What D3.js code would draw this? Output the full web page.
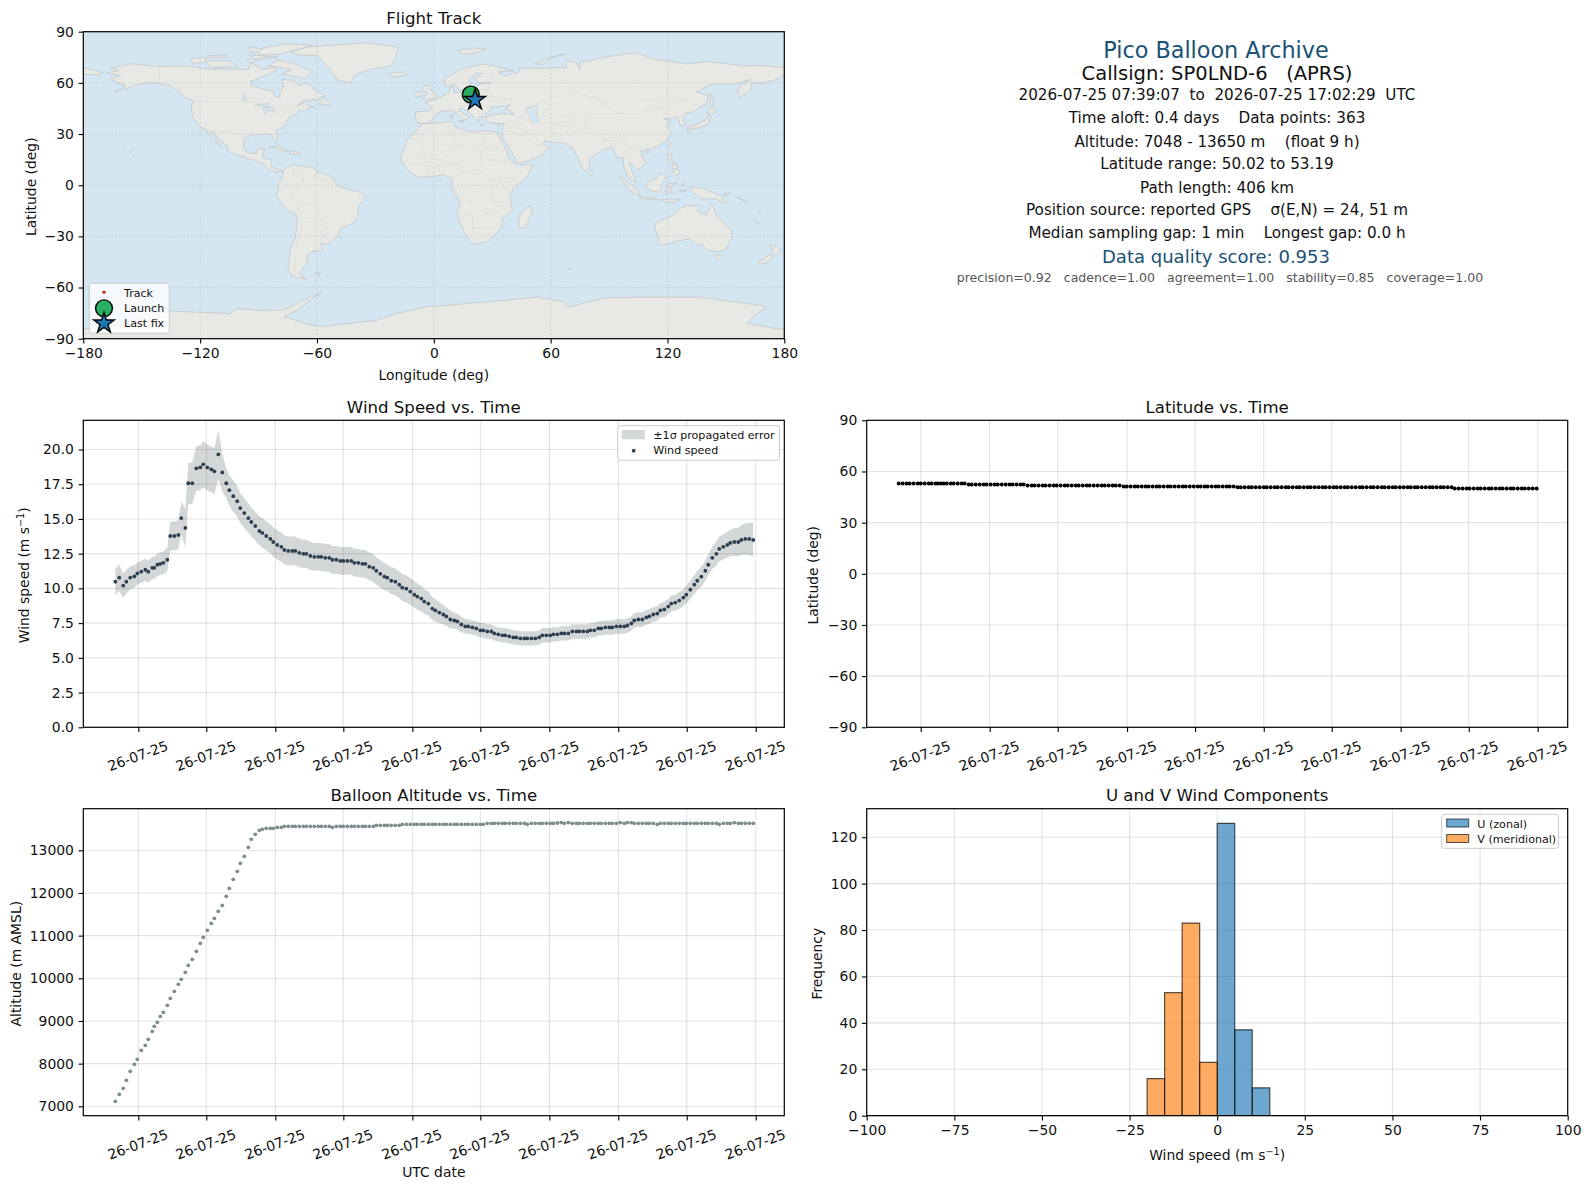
<!DOCTYPE html>
<html>
<head>
<meta charset="utf-8">
<script src="https://cdn.jsdelivr.net/npm/d3@7"></script>
<style>
  body { margin: 0; background: #fff; }
  text { font-family: "DejaVu Sans", sans-serif; fill: #111; }
</style>
</head>
<body>
<svg id="chart" width="1589" height="1189"></svg>
<script>
// minutes since launch for every plotted sample
const sampleMin = [0,3.5,7,9.7,13.2,16.8,19.4,22.9,26.5,29.1,32.6,34.4,37.1,39.7,42.4,45.9,48.5,52.1,55.6,58.2,61.8,64.4,67.9,71.5,75,77.6,81.2,84.7,87.4,90.9,94.4,97.9,100.6,104.1,107.6,110.3,113.8,117.4,120,123.5,127.1,129.7,133.2,136.8,139.4,142.9,146.5,149.1,152.6,156.2,158.8,162.4,165.9,168.5,172.1,175.6,179.1,181.8,185.3,188.8,191.5,195,198.5,201.2,204.7,208.2,210.9,214.4,217.9,220.6,224.1,227.6,230.3,233.8,237.4,240,243.5,247.1,250.6,253.2,256.8,260.3,263.8,266.5,270,272.6,276.2,279.7,282.4,285.9,289.4,292.1,295.6,299.1,301.8,305.3,308.8,311.5,315,318.5,322.1,324.7,328.2,331.8,334.4,337.9,341.5,344.1,347.6,351.2,353.8,357.4,360.9,363.5,367.1,370.6,374.1,376.8,380.3,383.8,386.5,390,393.5,396.2,399.7,403.2,406.8,409.4,412.9,416.5,419.1,422.6,426.2,428.8,432.4,435.9,438.5,442.1,445.6,449.1,451.8,455.3,457.9,461.5,465,468.5,471.2,474.7,478.2,480.9,484.4,487.9,490.6,494.1,497.6,501.2,503.8,507.4,510.9,513.5,517.1,520.6,523.2,526.8,530.3,532.9,536.5,540,542.6,546.2,549.7,552.4,555.9,559.4,562.9];

const windSpeed = [10.48,10.77,10.2,10.48,10.77,10.86,11.08,11.2,11.34,11.2,11.48,11.48,11.7,11.77,11.84,12.06,13.77,13.77,13.85,15.06,14.35,17.57,17.57,18.64,18.71,18.93,18.71,18.57,18.43,19.64,18.35,17.57,17.07,16.64,16.28,15.78,15.42,15.06,14.78,14.49,14.13,13.99,13.77,13.56,13.34,13.13,12.99,12.77,12.7,12.7,12.7,12.56,12.49,12.49,12.34,12.27,12.27,12.27,12.2,12.2,12.06,12.06,11.98,11.98,11.98,11.98,11.84,11.84,11.77,11.77,11.56,11.48,11.27,11.05,10.84,10.77,10.55,10.48,10.27,10.05,9.98,9.77,9.55,9.41,9.27,9.05,8.91,8.55,8.41,8.26,8.12,7.98,7.76,7.69,7.62,7.4,7.26,7.26,7.19,7.12,6.98,6.98,6.9,6.9,6.76,6.69,6.62,6.62,6.55,6.47,6.47,6.4,6.4,6.4,6.4,6.4,6.47,6.62,6.62,6.62,6.69,6.69,6.76,6.76,6.76,6.9,6.9,6.9,6.9,6.9,6.98,6.98,7.12,7.12,7.19,7.19,7.19,7.26,7.26,7.26,7.33,7.48,7.69,7.76,7.76,7.91,7.98,8.12,8.19,8.41,8.48,8.69,8.91,8.98,9.12,9.34,9.55,9.91,10.27,10.55,10.84,11.27,11.7,12.2,12.49,12.84,12.99,13.13,13.27,13.34,13.34,13.49,13.56,13.56,13.49];

const windSigma = [
  0.95,0.95,0.88,0.86,0.83,0.81,0.79,0.79,0.79,0.79,0.79,0.81,0.81,0.81,0.83,0.86,
  1.03,1.05,1.05,1.19,1.38,1.5,
  1.5,1.6,1.62,1.67,1.65,1.65,1.65,1.74,1.36,1.07,1.1,1.12,1.1,1.07,1.07,1.05,
  1.05,1.05,1.05,1.05,1.05,1.05,1.05,1.05,1.05,1.03,1.03,
  1.03,1.03,1.02,1.02,1.02,1.01,1,1,1,1,1,1,1,1,1,1,1,1,1,1,1,1,1,0.99,
  0.98,0.98,0.97,0.97,0.97,0.97,0.97,0.97,0.97,0.96,0.95,0.92,0.89,0.86,
  0.83,0.8,0.76,0.72,0.67,0.64,0.6,0.58,0.55,0.53,
  0.52,0.52,0.52,0.52,0.52,0.52,0.52,0.52,0.52,0.52,0.52,0.52,0.52,0.52,0.52,0.52,0.52,0.52,0.52,0.52,0.52,0.52,0.52,0.52,0.52,0.52,
  0.52,0.52,0.52,0.52,0.52,0.52,0.52,0.52,0.52,0.52,0.52,0.52,0.52,0.52,0.52,0.52,0.52,0.52,0.52,0.52,0.52,0.52,0.52,0.52,0.52,0.52,0.52,
  0.55,0.55,0.57,0.57,0.6,0.62,0.64,0.65,0.67,0.7,0.72,0.74,0.76,0.81,0.86,0.89,0.91,0.93,0.95,1,1.03,1.08,1.12,1.17,1.22,
];

const latitude = [
  52.98,52.98,52.98,52.98,52.98,52.98,52.98,52.98,52.98,52.98,52.98,52.98,52.98,52.98,52.98,52.98,52.98,52.98,52.98,52.98,
  52.39,52.39,52.39,52.39,52.39,52.39,52.39,52.39,52.39,52.39,52.39,52.39,52.39,52.39,52.39,52.39,
  51.81,51.81,51.81,51.81,51.81,51.81,51.81,51.81,51.81,51.81,51.81,51.81,51.81,51.81,51.81,51.81,51.81,51.81,51.81,51.81,51.81,51.81,51.81,51.81,51.81,51.81,
  51.22,51.22,51.22,51.22,51.22,51.22,51.22,51.22,51.22,51.22,51.22,51.22,51.22,51.22,51.22,51.22,51.22,51.22,51.22,51.22,51.22,51.22,51.22,51.22,51.22,51.22,51.22,51.22,51.22,51.22,51.22,
  50.7,50.7,50.7,50.7,50.7,50.7,50.7,50.7,50.7,50.7,50.7,50.7,50.7,50.7,50.7,50.7,50.7,50.7,50.7,50.7,50.7,50.7,50.7,50.7,50.7,50.7,50.7,50.7,50.7,50.7,
  50.7,50.7,50.7,50.7,50.7,50.7,50.7,50.7,50.7,50.7,50.7,50.7,50.7,50.7,50.7,50.7,50.7,50.7,50.7,50.7,50.7,50.7,50.7,50.7,50.7,50.7,50.7,50.7,50.7,
  50.05,50.05,50.05,50.05,50.05,50.05,50.05,50.05,50.05,50.05,50.05,50.05,50.05,50.05,50.05,50.05,50.05,50.05,50.05,50.05,50.05,50.05,50.05,
];

const altitude = [
  7117,7281,7422,7609,7820,7984,8102,8312,8430,8570,8758,8875,8969,9109,9203,9367,9531,9695,9859,9977,10141,10305,10445,10633,10820,10961,11125,11289,11406,11570,11711,11922,12109,12320,12508,12695,12859,13070,13258,13375,13469,13492,
  13516,13516,13516,13539,13539,
  13563,13563,13563,13563,13563,13563,13563,13563,13563,13563,13563,13563,13563,13539,
  13563,13563,13563,13563,13563,13563,13563,13563,13563,13563,13563,
  13586,13586,13586,13586,13586,13586,13586,
  13609,13609,13609,13609,13609,13609,13609,13609,
  13609,13609,13609,13609,13609,13609,13609,13609,13609,13609,13609,13609,13609,13609,13609,
  13632,13632,13632,13632,13632,13632,13632,13632,13632,13632,13632,13609,
  13632,13632,13632,13632,13632,13632,13632,13640,13650,13632,13650,
  13632,13632,13632,13632,13632,13632,13632,13632,13632,13632,13632,13632,13632,13650,13632,13650,13650,
  13632,13632,13632,13632,13632,13632,13609,
  13632,13632,13632,13632,13632,13632,13632,13632,13632,13632,13632,13632,13632,13632,13632,13632,13609,
  13632,13632,13632,13650,13632,13632,13632,13632,13632,
];

// hours on the shared time axis, in the same minutes since launch
const windTicks = [20.3,80.3,141.2,201.2,262.1,322.1,383,443.8,504.2,565.1];
const latTicks = [19.4,80.3,140.3,201.5,261.5,322.1,382.1,442.9,503,563.8];

// histogram, 5 m/s bins from -100 to 100
const binEdges = d3.range(-100, 100, 5);
const uCounts = [0,0,0,0,0,0,0,0,0,0,0,0,0,0,0,0,0,0,0,0,126,37,12,0,0,0,0,0,0,0,0,0,0,0,0,0,0,0,0,0];
const vCounts = [0,0,0,0,0,0,0,0,0,0,0,0,0,0,0,0,16,53,83,23,0,0,0,0,0,0,0,0,0,0,0,0,0,0,0,0,0,0,0,0];

const launch = [19, 53.19];
const lastFix = [21.2, 50.02];

const infoLines = [
  ['2026-07-25 07:39:07  to  2026-07-25 17:02:29  UTC', 100],
  ['Time aloft: 0.4 days    Data points: 363', 123.3],
  ['Altitude: 7048 - 13650 m    (float 9 h)', 146.7],
  ['Latitude range: 50.02 to 53.19', 169.3],
  ['Path length: 406 km', 192.7],
  ['Position source: reported GPS    σ(E,N) = 24, 51 m', 215.3],
  ['Median sampling gap: 1 min    Longest gap: 0.0 h', 238.3],
];

// coastlines as [lon, lat] rings
const land = [
  [[-168,66],[-162,67],[-166,68.5],[-156,71.3],[-141,69.6],[-128,70],[-115,68],[-108,68],[-95,68],[-94,72],[-88,68],[-82,69],[-81,67],[-87,64],[-94,61],[-94,58.5],[-88,56.5],[-82,55],[-82,52],[-79,51.5],[-79,55],[-77,57],[-78,62],[-72,61.5],[-69,58.5],[-65,60],[-61,56],[-56,52.5],[-60,50],[-66,50],[-70,47],[-65,49],[-64.5,46],[-61,46],[-66,44],[-70,43.5],[-70,41.7],[-74,40.5],[-76,37],[-76,35],[-81,31.5],[-80,27],[-81,25],[-83,29],[-85,30],[-90,29.5],[-94,29.5],[-97.5,27],[-97.8,22],[-95,18.5],[-91,18.8],[-90.5,21],[-87,21.5],[-88,16],[-83.5,15],[-83.5,11],[-80,9],[-77.5,8.5],[-79.5,7.5],[-83,8.3],[-86,10.5],[-88,13],[-92,14.5],[-96,16],[-102,18],[-105.5,20],[-106,23],[-109.5,26],[-113,31],[-114.8,31.5],[-112,27],[-109.5,23],[-112,25],[-115,29],[-117,32.5],[-120.5,34.5],[-124,40],[-124.5,47],[-123,49],[-128,51.5],[-131,55],[-136,58.5],[-145,60.5],[-152,59],[-158,56.5],[-164,54.8],[-158,58.5],[-162,60],[-166,62],[-161,64.5],[-168,65.6]],
  [[-73,78],[-66,81],[-35,83.5],[-18,81],[-20,74],[-22,70],[-32,68],[-40,65],[-43,60],[-50,62],[-53,67],[-55,70],[-60,76],[-70,76.5]],
  [[-80,73.5],[-72,71.5],[-67,69],[-62,66.5],[-66,62.5],[-72,64],[-78,65],[-73,68],[-85,70]],
  [[-90,80],[-75,83],[-62,82],[-72,79],[-80,76.5],[-90,76.5]],
  [[-117,73],[-105,73],[-101,69.5],[-115,69]],
  [[-125,74],[-117,75],[-118,72],[-124,71.5]],
  [[-95,76.5],[-80,75],[-92,74]],
  [[-116,76],[-106,76.5],[-106,75],[-116,75]],
  [[-96,74],[-90,73.5],[-94,71.5]],
  [[-95,81],[-88,80],[-90,78],[-94,78]],
  [[-59,47.7],[-56,51.5],[-53,47],[-55,47]],
  [[-85,22],[-80,23],[-74,20],[-77.5,20],[-82,22.3]],
  [[-74,19.8],[-69,19.5],[-68.5,18.4],[-74,18.2]],
  [[-156,20.5],[-155,19.5],[-156,19]],
  [[-159.8,22.2],[-159.3,22.2],[-159.5,21.8]],
  [[-180,65],[-172,64.5],[-170,66],[-180,69]],
  [[-77.5,8.5],[-75,11],[-72,12],[-68,11],[-62,10.5],[-60,8],[-52,5],[-50,0],[-44,-2.5],[-37,-4.5],[-35,-7],[-39,-13],[-39,-18],[-41,-22],[-48,-25.5],[-49,-29],[-54,-34.5],[-58,-34],[-57,-38],[-62,-39],[-65,-41],[-65,-45],[-68,-50],[-68.5,-53],[-65.5,-55],[-72,-54],[-75,-50],[-74,-42],[-73.5,-37],[-71,-30],[-70,-18],[-76,-14],[-81,-6],[-80,-2.5],[-80,1],[-78,3],[-77.5,7]],
  [[-6,35.8],[10,37.3],[11,34],[15,32.5],[20,31],[25,32],[32,31.2],[34,28],[37,21],[39,15],[43,12],[51,12],[48,5],[41,-2],[39,-7],[40.5,-15],[35,-20],[35,-24],[32.5,-28],[28,-33],[20,-34.8],[18,-32],[15,-26],[12,-17],[13.5,-10],[9,-1],[9.5,4],[5,6],[-3,5],[-8,4.5],[-13,8.5],[-17,14.5],[-16,20],[-13,27.5],[-9.5,31]],
  [[49.5,-12],[50.5,-16],[47,-25],[44,-25],[43.5,-21],[44.5,-16]],
  [[-9,37],[-9.5,43],[-2,43.5],[-1,46],[-4.5,48.5],[2,51],[8,54],[8,57],[10.5,57.5],[10,54.5],[14,54],[19,54.5],[21,57],[24,59.5],[30,60],[23,60],[21,63],[25,65.5],[22,65.8],[17.5,62],[19,60],[16,56.5],[13,55.5],[11,59],[6,58],[5,62],[14,68],[25,71],[31,70],[41,67],[33,66.5],[36,64],[44,66.5],[44,68.5],[54,68.5],[68,69],[68,73],[73,72],[75,68],[75,72],[80,73],[87,75],[104,77.7],[113,74],[130,71],[140,72.5],[160,70],[170,70],[180,69],[180,65],[177,62.5],[170,60],[163,60],[163,56],[157,51],[156,57],[163,62],[155,59.5],[142,59],[135,54.5],[141,53],[140,48],[133,43],[130,42.5],[128,40],[129.5,36],[126.5,34.5],[126,37.5],[125,39.8],[121.5,39],[118,39],[122,37],[119.5,35],[122,31],[120,26],[114,22.5],[110,21],[106,20],[109,13],[105,9],[100,13.5],[103,5],[104,1.5],[100.5,4],[98,9],[97,16.5],[94,16],[92,22],[87,21],[80,15],[80,11],[77.5,8],[73,18],[72,21],[67,24.5],[60,25.3],[57,26],[56,24],[59.5,22.5],[55,17],[45,13],[43,13],[39,21],[35,28],[35,31],[36,36],[30,36.5],[27,37],[26.5,40],[29,41],[35,42],[41.5,41.5],[37,45],[39,47],[33,46],[30,46],[28,43],[26,40.5],[23,40],[23,37],[20,40],[19,42],[14,45.5],[12.5,44],[16,41.5],[18.5,40],[16,38],[12,42],[8,44],[3,43],[0,39.5],[-2,37],[-5.5,36]],
  [[-5.5,50],[1.5,51.2],[1.5,53],[-2,56],[-2,58],[-5,58.5],[-6,56],[-3,54],[-5,52]],
  [[-10,52],[-6,52.2],[-6,55],[-9,54.5]],
  [[-24,65.5],[-15,66.3],[-13.5,65],[-19,63.4],[-22.5,64]],
  [[12,79],[20,80.3],[27,80],[20,77],[15,77]],
  [[52,71],[57,74],[68,77],[60,75],[56,71]],
  [[12.5,38],[15.5,38],[15,36.7]],
  [[8.3,41],[9.7,41],[9.5,39],[8.5,39]],
  [[24,35.5],[26,35.2],[24,35]],
  [[32.5,35],[34.5,35.6],[33.5,34.6]],
  [[80,9.5],[82,7],[80.5,6],[79.7,8]],
  [[130,33.5],[135.5,33.5],[140.8,35.5],[142,39.5],[141,41.3],[139.5,38],[136,36],[131,34.5]],
  [[140,42],[142,45.5],[145.5,43.3],[143,42]],
  [[130,33.5],[132,33],[131,31],[130,31.3]],
  [[142,54],[143.5,50],[143,46],[142,48]],
  [[121,25],[122,24.5],[120.8,22],[120,23.5]],
  [[109,20],[111,20],[110,18.3]],
  [[120.5,18.5],[122.3,18.3],[122,15],[124,13],[120.5,14]],
  [[122,8],[125.5,9.7],[126.5,7],[125,5.8],[123.5,7.5]],
  [[122,11.5],[125,12.5],[125.5,10],[123,9.5]],
  [[95.5,5.5],[104,-2],[106,-6],[102,-4.5],[97,2]],
  [[105.5,-6.5],[114.5,-7.8],[114.5,-8.7],[106,-7.6]],
  [[109,1.5],[113,3.5],[117,7],[119,5],[117.5,1],[116,-4],[111,-3.3],[109,-0.5]],
  [[119.5,-5.5],[120,0.8],[125,1.5],[121,-1],[123,-5],[121,-3.5]],
  [[131,-1],[138,-1.8],[147,-6],[150.5,-10.5],[144,-8],[138,-8],[132.5,-4]],
  [[116,-8.5],[120,-8.3],[125,-8.2],[127,-8.4],[124,-10],[119,-9.7]],
  [[127.5,2],[128.5,1],[128,-0.8]],
  [[126,-3],[130,-3],[129,-3.7]],
  [[148,-6],[152,-4.2],[152,-5.5]],
  [[156,-7],[161,-10],[160,-10]],
  [[164,-20],[167,-22.4],[165.5,-21.8]],
  [[167,-15],[168,-16.5],[167.2,-16]],
  [[114,-22],[122,-18],[126,-14],[130,-12],[136.5,-12],[135.5,-15],[140,-17.5],[142.5,-11],[146,-19],[153,-26],[153,-31],[150,-37.5],[146,-39],[140,-38],[138,-35],[135.5,-34.8],[131,-31.5],[124,-33],[118,-35],[115,-34.3],[115.5,-31],[113.5,-25]],
  [[144.7,-41],[148.3,-41],[147,-43.5],[146,-43.5]],
  [[172.7,-34.5],[178.5,-37.7],[175.5,-41.5],[174,-39]],
  [[172.5,-40.7],[174.5,-41.8],[171,-45.8],[167,-46.2],[167,-45]],
  [[-61,-51.5],[-58,-51.5],[-59,-52.3]],
  [[69,-49],[70.5,-49.3],[69.5,-49.7]],
  [[-180,-90],[-180,-84.3],[-155,-82],[-150,-77],[-135.5,-73.8],[-104.7,-75.3],[-101,-72.4],[-89,-73.4],[-77,-73],[-68.7,-68.5],[-57.6,-63],[-65,-68.5],[-68.7,-72.4],[-77,-77.3],[-61.9,-82.2],[-57.6,-82.8],[-29.3,-79.3],[-19,-75.3],[-4.5,-71.4],[16,-69.5],[54,-65.6],[67,-68.5],[69,-71.4],[72.5,-70.5],[88,-66],[105,-65.6],[136,-65.6],[171,-71],[164,-77.3],[161,-80.8],[175,-84],[180,-84.3],[180,-90]],
];

// inland water drawn back over the land
const water = [
  [[47,45],[53,46.5],[53,41],[54,37],[50,37],[49,41]],
  [[-92,47],[-85,48],[-84.5,46],[-88,46.5]],
  [[-87.5,45.5],[-82,45.8],[-82,43],[-84,44],[-87,42]],
  [[-96,50],[-97,54],[-98,53],[-98,50]],
];

const borders = [
  [[-123,49],[-95,49],[-89,48],[-83,46],[-82,43],[-79,43],[-75,45],[-70,46],[-67,47],[-67,45]],
  [[-141,69.6],[-141,60],[-135,59],[-130,55]],
  [[-117,32.5],[-108,31.5],[-106,31.7],[-101,29.5],[-97.5,26]],
  [[-92,14.5],[-91,18],[-88,18]],
  [[-70,-18],[-69,-11],[-74,-7],[-70,-4],[-70,1],[-67,2],[-60,5]],
  [[-72,12],[-72,7],[-67,6],[-67,2]],
  [[-78,1],[-75,0],[-70,-4]],
  [[-80,-3.5],[-75,-1]],
  [[-69,-11],[-65,-10],[-60,-13],[-58,-20],[-54,-25],[-57,-30],[-53,-33.5]],
  [[-69,-18],[-67,-22],[-70,-33],[-72,-50],[-69,-52]],
  [[-67,-22],[-58,-20]],
  [[-58,-27],[-54,-25]],
  [[-58,-34],[-58,-27]],
  [[-60,8],[-60,5],[-57,2],[-52,2]],
  [[-13,27.5],[-8,27.5],[-8,29],[-2,32],[-2,35]],
  [[8.5,37],[8,31],[10,30],[12,23]],
  [[11,33],[10,30]],
  [[25,32],[25,20],[24,15.5],[23,9],[27,5],[30,3.5],[34,4],[36,-1],[40,-4]],
  [[25,22],[37,22]],
  [[-17,16],[-5,15.5],[-5,25],[-8,27.5]],
  [[12,23],[15,23],[24,20]],
  [[3,19],[12,23]],
  [[-5,15.5],[3,15],[14,13]],
  [[14,13],[15,8],[9,4]],
  [[-13,12.5],[0,11],[3,12],[14,13]],
  [[-3,5],[-3,11]],
  [[3,6],[3,12]],
  [[15,8],[23,9]],
  [[14,-5],[12.5,-6],[22,-11],[24,-13],[30,-15],[35,-17]],
  [[12,-17],[24,-18],[30,-15]],
  [[20,-18],[20,-28],[17,-29]],
  [[20,-25],[26,-25],[32,-26]],
  [[30,-1],[30,-9],[39,-10.5]],
  [[34,4],[42,4],[41,-2]],
  [[36,14],[43,12]],
  [[24,15.5],[36,14]],
  [[-1.8,43.4],[3,42.5]],
  [[3,51],[8,49],[7.5,44]],
  [[8,54.8],[7,51],[8,49]],
  [[14,54],[15,51],[18,49.5],[23,48.5],[24,51],[23.5,54]],
  [[24,51],[31,52],[40,50],[39,47]],
  [[23,48.5],[28,45.5],[29,45]],
  [[14,46.5],[17,48],[23,48.5]],
  [[22,42],[28,42]],
  [[21,56],[28,56],[28,59.5]],
  [[28,56],[31,52]],
  [[28,70],[30,62],[28,60]],
  [[18,69],[13,64],[12,59]],
  [[44,40],[48,38]],
  [[36,36],[42,37],[44,37],[44,40]],
  [[36,32],[39,32],[46,29],[48,30]],
  [[42,37],[39,32]],
  [[46,29],[52,24],[56,24]],
  [[44,37],[46,35],[48,30]],
  [[54,37],[60,36],[61,31],[63,26]],
  [[61,31],[66,29.5],[70,33],[71,37],[74,37]],
  [[60,36],[66,37],[71,37]],
  [[62,25],[66,29.5]],
  [[68,24],[71,28],[74,33],[78,35],[79,31],[88,27],[92,28],[97,28]],
  [[88,27],[88,23],[92,22]],
  [[92,22],[97,28]],
  [[97,28],[98,24],[101,21],[105,23],[108,21.5]],
  [[101,21],[100,18],[105,14],[107,11]],
  [[100,18],[98,16]],
  [[54,41],[59,45],[66,41],[71,42],[74,37]],
  [[51,47],[61,51],[70,55],[77,53],[87,49]],
  [[47,43],[48,46],[51,47]],
  [[87,49],[80,42],[74,40]],
  [[87,49],[98,52],[106,50],[117,50],[120,53],[127,50],[135,48],[131,43]],
  [[80,42],[96,42],[106,42],[112,45],[120,47],[117,50]],
  [[87,49],[91,45],[96,42]],
  [[124.5,40],[130,42.5]],
  [[126,38],[129,38]],
  [[78,35],[80,42]],
];

const svg = d3.select('#chart');
const tickFont = 13.9;
const leftCol = [83.3, 784.3], rightCol = [866.7, 1567.7];
const row1 = [31.7, 338.7], row2 = [420.3, 727.3], row3 = [808.7, 1115.7];
const defs = svg.append('defs');
let clipId = 0;

function panel(xRange, yRange, x, y, xTicks, yTicks, opts) {
  const g = svg.append('g');
  const id = 'clip' + clipId++;
  defs.append('clipPath').attr('id', id).append('rect')
    .attr('x', xRange[0]).attr('y', yRange[0])
    .attr('width', xRange[1] - xRange[0]).attr('height', yRange[1] - yRange[0]);

  const marks = g.append('g').attr('clip-path', `url(#${id})`);
  const grid = marks.append('g');
  xTicks.forEach((t) => grid.append('line').attr('x1', x(t)).attr('x2', x(t)).attr('y1', yRange[0]).attr('y2', yRange[1]));
  yTicks.forEach((t) => grid.append('line').attr('y1', y(t)).attr('y2', y(t)).attr('x1', xRange[0]).attr('x2', xRange[1]));
  grid.selectAll('line').attr('stroke', '#b0b0b0').attr('stroke-opacity', 0.35).attr('stroke-width', 1.1);

  const xAxis = g.append('g').attr('transform', `translate(0,${yRange[1]})`)
    .call(d3.axisBottom(x).tickValues(xTicks).tickFormat(opts.xFormat).tickSize(4.7).tickSizeOuter(0).tickPadding(4.7));
  const yAxis = g.append('g').attr('transform', `translate(${xRange[0]},0)`)
    .call(d3.axisLeft(y).tickValues(yTicks).tickFormat(opts.yFormat).tickSize(4.7).tickSizeOuter(0).tickPadding(4.7));
  [xAxis, yAxis].forEach((a) => {
    a.select('.domain').remove();
    a.selectAll('.tick line').attr('stroke', '#000').attr('stroke-width', 1.1);
    a.selectAll('text').attr('font-size', tickFont).attr('font-family', '"DejaVu Sans"').attr('fill', '#111');
  });
  if (opts.rotate) {
    xAxis.selectAll('.tick text')
      .attr('y', 0).attr('dy', 0)
      .attr('text-anchor', 'middle').attr('dominant-baseline', 'central')
      .attr('transform', 'translate(-1,28.5) rotate(-20)');
  }
  g.append('rect').attr('x', xRange[0]).attr('y', yRange[0])
    .attr('width', xRange[1] - xRange[0]).attr('height', yRange[1] - yRange[0])
    .attr('fill', 'none').attr('stroke', '#000').attr('stroke-width', 1.2);

  const cx = (xRange[0] + xRange[1]) / 2, cy = (yRange[0] + yRange[1]) / 2;
  g.append('text').attr('x', cx).attr('y', yRange[0] - 7.8).attr('text-anchor', 'middle')
    .attr('font-size', 16.6).text(opts.title);
  if (opts.yLabel) {
    g.append('text').attr('transform', `translate(${opts.yLabelX},${cy + 1.5}) rotate(-90)`)
      .attr('text-anchor', 'middle').attr('font-size', tickFont).text(opts.yLabel);
  }
  return { g, marks, cx };
}

function legendBox(g, x0, y0, x1, y1) {
  g.append('rect').attr('x', x0).attr('y', y0).attr('width', x1 - x0).attr('height', y1 - y0)
    .attr('rx', 2.5).attr('fill', '#fff').attr('fill-opacity', 0.8)
    .attr('stroke', '#ccc').attr('stroke-width', 1);
}
function legendText(g, x, y, s) {
  g.append('text').attr('x', x).attr('y', y).attr('font-size', 11.1).text(s);
}
const dots = (sel, data, x, y, r, color) => sel.selectAll(null).data(data).enter().append('circle')
  .attr('cx', (d) => x(d[0])).attr('cy', (d) => y(d[1])).attr('r', r).attr('fill', color);

// Flight track
{
  const x = d3.scaleLinear().domain([-180, 180]).range(leftCol);
  const y = d3.scaleLinear().domain([-90, 90]).range([row1[1], row1[0]]);
  const ticksX = d3.range(-180, 181, 60), ticksY = d3.range(-90, 91, 30);
  const p = panel(leftCol, row1, x, y, ticksX, ticksY, {
    title: 'Flight Track', yLabel: 'Latitude (deg)', yLabelX: 35.5,
    xFormat: d3.format('d'), yFormat: d3.format('d'),
  });
  const ring = d3.line().x((d) => x(d[0])).y((d) => y(d[1]));
  const base = p.marks.insert('g', ':first-child');
  base.append('rect').attr('x', leftCol[0]).attr('y', row1[0])
    .attr('width', leftCol[1] - leftCol[0]).attr('height', row1[1] - row1[0]).attr('fill', '#d4e6f1');
  base.selectAll('path.land').data(land).enter().append('path').attr('class', 'land')
    .attr('d', (d) => ring(d) + 'Z').attr('fill', '#e8e8e4').attr('stroke', '#bfc3c6').attr('stroke-width', 0.7).attr('stroke-linejoin', 'round');
  base.selectAll('path.water').data(water).enter().append('path').attr('class', 'water')
    .attr('d', (d) => ring(d) + 'Z').attr('fill', '#d4e6f1').attr('stroke', '#bfc3c6').attr('stroke-width', 0.5);
  base.selectAll('path.border').data(borders).enter().append('path').attr('class', 'border')
    .attr('d', ring).attr('fill', 'none').attr('stroke', '#dcdcd8').attr('stroke-width', 0.7);
  p.marks.selectAll('line').attr('stroke', '#999').attr('stroke-opacity', 0.35).attr('stroke-width', 0.7).attr('stroke-dasharray', '2.5,2');

  const track = latitude.map((la, i) => [launch[0] + (lastFix[0] - launch[0]) * i / (latitude.length - 1), la]);
  dots(p.marks.append('g'), track, x, y, 1.8, '#c0392b');
  p.marks.append('circle').attr('cx', x(launch[0])).attr('cy', y(launch[1])).attr('r', 8.4)
    .attr('fill', '#27ae60').attr('stroke', '#000').attr('stroke-width', 1.4);
  p.marks.append('path').attr('d', d3.symbol(d3.symbolStar, 130))
    .attr('transform', `translate(${x(lastFix[0])},${y(lastFix[1])})`)
    .attr('fill', '#1f77b4').attr('stroke', '#000').attr('stroke-width', 1.4);

  legendBox(p.g, 89.3, 283.3, 169.3, 333.3);
  p.g.append('circle').attr('cx', 104).attr('cy', 292.3).attr('r', 1.8).attr('fill', '#c0392b');
  p.g.append('circle').attr('cx', 104).attr('cy', 308.3).attr('r', 8.4).attr('fill', '#27ae60').attr('stroke', '#000').attr('stroke-width', 1.4);
  p.g.append('path').attr('d', d3.symbol(d3.symbolStar, 130)).attr('transform', 'translate(104,323.3)')
    .attr('fill', '#1f77b4').attr('stroke', '#000').attr('stroke-width', 1.4);
  legendText(p.g, 124, 296.5, 'Track');
  legendText(p.g, 124, 312, 'Launch');
  legendText(p.g, 124, 327, 'Last fix');

  p.g.append('text').attr('x', p.cx).attr('y', 380).attr('text-anchor', 'middle')
    .attr('font-size', tickFont).text('Longitude (deg)');
}

// Info block
{
  const cx = 1217;
  const add = (s, y, size, color, dx = 0) => svg.append('text').attr('x', cx + dx).attr('y', y).attr('text-anchor', 'middle')
    .attr('xml:space', 'preserve').style('white-space', 'pre').attr('font-size', size).style('fill', color).text(s);
  add('Pico Balloon Archive', 58.3, 22.3, '#1a5276', -1);
  add('Callsign: SP0LND-6   (APRS)', 80, 19.5, '#111');
  infoLines.forEach((d) => add(d[0], d[1], 15.2, '#111'));
  add('Data quality score: 0.953', 263.3, 18.05, '#1a5276', -1);
  add('precision=0.92   cadence=1.00   agreement=1.00   stability=0.85   coverage=1.00', 281.7, 12.55, '#555', 3);
}

const timeDomain = [-28.24, 590.3];
const blank = () => '26-07-25';

// Wind speed
{
  const x = d3.scaleLinear().domain(timeDomain).range(leftCol);
  const y = d3.scaleLinear().domain([0, 22.1]).range([row2[1], row2[0]]);
  const p = panel(leftCol, row2, x, y, windTicks, d3.range(0, 20.1, 2.5), {
    title: 'Wind Speed vs. Time', yLabel: '', rotate: true,
    xFormat: blank, yFormat: d3.format('.1f'),
  });
  const area = d3.area().x((d, i) => x(sampleMin[i]))
    .y0((d, i) => y(d - windSigma[i])).y1((d, i) => y(d + windSigma[i]));
  p.marks.append('path').attr('d', area(windSpeed)).attr('fill', '#37474f').attr('fill-opacity', 0.22);
  dots(p.marks.append('g'), windSpeed.map((v, i) => [sampleMin[i], v]), x, y, 1.9, '#2c3e50');

  legendBox(p.g, 617.7, 425.7, 779.5, 460.3);
  p.g.append('rect').attr('x', 621.7).attr('y', 430).attr('width', 23).attr('height', 9.3)
    .attr('fill', '#37474f').attr('fill-opacity', 0.22);
  p.g.append('circle').attr('cx', 633.7).attr('cy', 450.7).attr('r', 1.9).attr('fill', '#2c3e50');
  legendText(p.g, 653.3, 439, '±1σ propagated error');
  legendText(p.g, 653.3, 454, 'Wind speed');

  const lab = svg.append('text').attr('transform', `translate(29,${(row2[0] + row2[1]) / 2 + 1.5}) rotate(-90)`)
    .attr('text-anchor', 'middle').attr('font-size', tickFont);
  lab.append('tspan').text('Wind speed (m s');
  lab.append('tspan').attr('dy', -5).attr('font-size', 9.7).text('−1');
  lab.append('tspan').attr('dy', 5).text(')');
}

// Latitude
{
  const x = d3.scaleLinear().domain(timeDomain).range(rightCol);
  const y = d3.scaleLinear().domain([-90, 90]).range([row2[1], row2[0]]);
  const p = panel(rightCol, row2, x, y, latTicks, d3.range(-90, 91, 30), {
    title: 'Latitude vs. Time', yLabel: 'Latitude (deg)', yLabelX: 818, rotate: true,
    xFormat: blank, yFormat: d3.format('d'),
  });
  dots(p.marks.append('g'), latitude.map((v, i) => [sampleMin[i], v]), x, y, 2, '#000');
}

// Altitude
{
  const x = d3.scaleLinear().domain(timeDomain).range(leftCol);
  const y = d3.scaleLinear().domain([6780, 13975]).range([row3[1], row3[0]]);
  const p = panel(leftCol, row3, x, y, windTicks, d3.range(7000, 13001, 1000), {
    title: 'Balloon Altitude vs. Time', yLabel: 'Altitude (m AMSL)', yLabelX: 21, rotate: true,
    xFormat: blank, yFormat: d3.format('d'),
  });
  dots(p.marks.append('g'), altitude.map((v, i) => [sampleMin[i], v]), x, y, 1.9, '#7f8c8d');
  p.g.append('text').attr('x', p.cx).attr('y', 1176.7).attr('text-anchor', 'middle')
    .attr('font-size', tickFont).text('UTC date');
}

// U and V histogram
{
  const x = d3.scaleLinear().domain([-100, 100]).range(rightCol);
  const y = d3.scaleLinear().domain([0, 132.3]).range([row3[1], row3[0]]);
  const p = panel(rightCol, row3, x, y, d3.range(-100, 101, 25), d3.range(0, 121, 20), {
    title: 'U and V Wind Components', yLabel: 'Frequency', yLabelX: 822,
    xFormat: d3.format('d'), yFormat: d3.format('d'),
  });
  // paths rather than rects so the empty bins still leave their edge on the baseline
  const bars = (counts, color) => p.marks.append('g').selectAll('path').data(counts).enter().append('path')
    .attr('d', (d, i) => `M${x(binEdges[i])},${y(0)}V${y(d)}H${x(binEdges[i] + 5)}V${y(0)}Z`)
    .attr('fill', color).attr('fill-opacity', 0.65)
    .attr('stroke', '#000').attr('stroke-opacity', 0.65).attr('stroke-width', 1.2);
  bars(uCounts, '#1f77b4');
  bars(vCounts, '#ff7f0e');

  legendBox(p.g, 1441.7, 814.3, 1558.5, 848.3);
  p.g.append('rect').attr('x', 1446.7).attr('y', 819).attr('width', 22).attr('height', 8)
    .attr('fill', '#1f77b4').attr('fill-opacity', 0.65).attr('stroke', '#000').attr('stroke-opacity', 0.65);
  p.g.append('rect').attr('x', 1446.7).attr('y', 834.5).attr('width', 22).attr('height', 8)
    .attr('fill', '#ff7f0e').attr('fill-opacity', 0.65).attr('stroke', '#000').attr('stroke-opacity', 0.65);
  legendText(p.g, 1477.3, 828.3, 'U (zonal)');
  legendText(p.g, 1477.3, 843.3, 'V (meridional)');

  const lab = p.g.append('text').attr('x', p.cx).attr('y', 1160).attr('text-anchor', 'middle').attr('font-size', tickFont);
  lab.append('tspan').text('Wind speed (m s');
  lab.append('tspan').attr('dy', -5).attr('font-size', 9.7).text('−1');
  lab.append('tspan').attr('dy', 5).text(')');
}
</script>
</body>
</html>
